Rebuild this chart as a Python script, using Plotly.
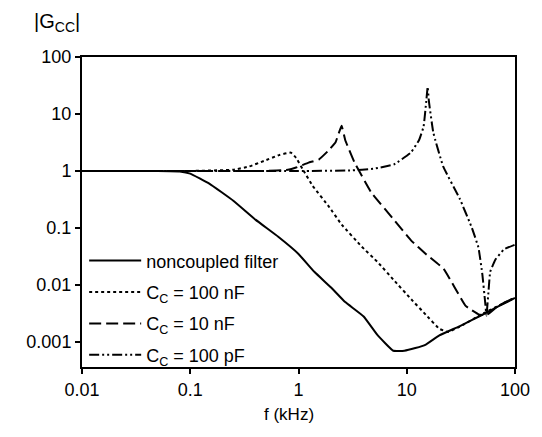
import plotly.graph_objects as go

# Noncoupled filter
f_nc = [0.01, 0.05, 0.08, 0.1, 0.15, 0.25, 0.4, 0.65, 1, 1.4, 2, 2.7, 4, 5.4, 7.5, 9.5, 12, 15, 20, 31, 50, 70, 100]
g_nc = [1, 1, 0.98, 0.9, 0.6, 0.3, 0.14, 0.07, 0.035, 0.017, 0.009, 0.005, 0.0028, 0.0013, 0.0007, 0.0007, 0.00078, 0.0009, 0.0013, 0.0019, 0.003, 0.0042, 0.0059]

# Cc = 100 nF
f_100n = [0.01, 0.1, 0.25, 0.35, 0.48, 0.66, 0.85, 0.95, 1.1, 1.35, 1.9, 2.5, 3.8, 5.4, 7.5, 11, 15, 20, 24, 30, 50, 70, 100]
g_100n = [1, 1, 1.05, 1.2, 1.5, 1.9, 2.1, 1.7, 1.05, 0.55, 0.24, 0.115, 0.048, 0.025, 0.0125, 0.0056, 0.003, 0.0017, 0.0015, 0.0018, 0.0031, 0.0043, 0.006]

# Cc = 10 nF
f_10n = [0.01, 0.5, 0.8, 0.95, 1.24, 1.55, 1.9, 2.2, 2.5, 2.7, 3.3, 4.7, 7.6, 11, 15, 22, 35, 47, 55, 70, 100]
g_10n = [1, 1, 1.05, 1.15, 1.4, 1.6, 2.3, 3.2, 6.2, 3.5, 1.4, 0.42, 0.14, 0.06, 0.035, 0.019, 0.0043, 0.003, 0.003, 0.0043, 0.006]

# Cc = 100 pF
f_100p = [0.01, 1, 3, 5, 7.6, 10.9, 13, 14.3, 15.2, 15.6, 16, 17.6, 21.7, 31, 40, 46, 50, 53, 54.5, 57, 59, 66, 79, 100]
g_100p = [1, 1, 1.02, 1.1, 1.3, 2.1, 3.5, 6, 18, 30, 17, 4.7, 1.2, 0.32, 0.1, 0.045, 0.015, 0.005, 0.0029, 0.008, 0.017, 0.028, 0.042, 0.051]

x_ticks = [0.01, 0.1, 1, 10, 100]
x_tick_text = ["0.01", "0.1", "1", "10", "100"]
y_ticks = [0.001, 0.01, 0.1, 1, 10, 100]
y_tick_text = ["0.001", "0.01", "0.1", "1", "10", "100"]

names = ["noncoupled filter", "C<sub>C</sub> = 100 nF", "C<sub>C</sub> = 10 nF", "C<sub>C</sub> = 100 pF"]
dashes = ["solid", "dot", "12px,5px", "10px,3px,2px,3px,2px,3px"]
series = [(f_nc, g_nc), (f_100n, g_100n), (f_10n, g_10n), (f_100p, g_100p)]

font = "Liberation Sans, Arial, sans-serif"

fig = go.Figure()
for i, ((fx, gy), nm, ds) in enumerate(zip(series, names, dashes)):
    fig.add_trace(go.Scatter(
        x=fx, y=gy, mode="lines", name=nm, legendgroup=f"g{i}",
        line=dict(color="black", width=2, dash=ds, shape="spline", smoothing=0.3),
    ))

fig.update_layout(
    width=534, height=421,
    margin=dict(l=74, r=19, t=49, b=62),
    paper_bgcolor="white", plot_bgcolor="white",
    font=dict(family=font, size=17, color="black"),
    showlegend=True,
    legend=dict(
        x=0.005, y=0.402, xanchor="left", yanchor="top",
        bgcolor="rgba(0,0,0,0)", font=dict(size=18, family=font, color="black"),
        tracegroupgap=5, borderwidth=0, itemwidth=52,
    ),
    xaxis=dict(
        type="log", range=[-2, 2], tickvals=x_ticks, ticktext=x_tick_text,
        showgrid=False, zeroline=False, showline=True, linecolor="black", linewidth=2,
        mirror=True, ticks="outside", ticklen=5, tickwidth=2, tickcolor="black",
        tickfont=dict(size=18),
    ),
    yaxis=dict(
        type="log", range=[-3.44, 2], tickvals=y_ticks, ticktext=y_tick_text,
        showgrid=False, zeroline=False, showline=True, linecolor="black", linewidth=2,
        mirror=True, ticks="outside", ticklen=5, tickwidth=2, tickcolor="black",
        tickfont=dict(size=18),
    ),
    annotations=[
        dict(text="|G<sub>CC</sub>|", xref="paper", yref="paper", x=-0.115, y=1.11,
             xanchor="left", yanchor="middle", showarrow=False, font=dict(size=20)),
        dict(text="f (kHz)", xref="paper", yref="paper", x=0.478, y=-0.152,
             xanchor="center", yanchor="middle", showarrow=False, font=dict(size=17)),
    ],
)

fig.write_html("out.html")
